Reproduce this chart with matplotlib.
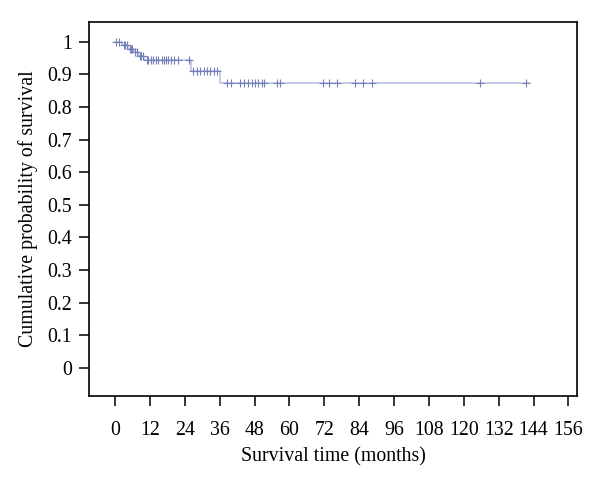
import numpy as np
import matplotlib
matplotlib.use("Agg")
import matplotlib.pyplot as plt

# Kaplan-Meier step data (event times in months, survival after each event)
event_times = [2.5, 4.5, 6.5, 8.0, 10.0, 26.0, 36.2]
surv_after = [0.989, 0.978, 0.967, 0.956, 0.944, 0.911, 0.872]
end_time = 142.5

# Censored observation times (months)
censor_times = [0.3, 1.5, 3.0, 3.6, 4.0, 5.0, 5.5, 6.0, 7.0, 7.5, 8.5, 9.0, 9.5,
                10.9, 11.5, 12.4, 13.2, 14.0, 14.9, 16.1, 16.7, 17.5, 18.2, 19.3, 20.4, 21.8, 25.3,
                27.0, 28.2, 29.3, 30.5, 31.6, 32.8, 33.9, 35.1,
                38.5, 40.0, 43.1, 44.5, 45.6, 47.0, 48.2, 49.1, 50.5, 51.1, 55.8, 56.9,
                71.6, 73.5, 76.3, 82.4, 85.4, 88.3, 125.5, 141.4]

x_ticks = list(range(0, 157, 12))
y_ticks = [0, 0.1, 0.2, 0.3, 0.4, 0.5, 0.6, 0.7, 0.8, 0.9, 1]
y_ticklabels = ["0", "0.1", "0.2", "0.3", "0.4", "0.5", "0.6", "0.7", "0.8", "0.9", "1"]

plt.rcParams['font.family'] = ['Liberation Serif', 'DejaVu Serif']

fig = plt.figure(figsize=(6, 4.8), dpi=100)
ax = fig.add_axes([0.148, 0.175, 0.814, 0.779])

st = np.concatenate([[0.0], event_times, [end_time]])
sv = np.concatenate([[1.0], surv_after, [surv_after[-1]]])
ax.step(st, sv, where='post', color='#b4bee2', lw=1.1, zorder=2)

ct = np.array(censor_times)
idx = np.searchsorted(np.array(event_times), ct, side='right')
cy = np.concatenate([[1.0], surv_after])[idx]
ax.plot(ct, cy, linestyle='none', marker='+', markersize=6, markeredgewidth=0.8,
        color='#7480b8', zorder=3)

ax.set_xlim(-9, 159)
ax.set_ylim(-0.086, 1.06)
ax.set_xticks(x_ticks)
ax.set_xticklabels([str(t) for t in x_ticks])
ax.set_yticks(y_ticks)
ax.set_yticklabels(y_ticklabels)

for s in ax.spines.values():
    s.set_linewidth(1.2)
    s.set_color('black')

ax.tick_params(axis='x', direction='out', length=7, width=1.1, pad=11, labelsize=14.3)
ax.tick_params(axis='y', direction='out', length=7, width=1.1, pad=5, labelsize=14.3)

ax.set_xlabel("Survival time (months)", fontsize=14.3, labelpad=5)
ax.set_ylabel("Cumulative probability of survival", fontsize=14.3, labelpad=7)

fig.savefig("out.png", dpi=100)
